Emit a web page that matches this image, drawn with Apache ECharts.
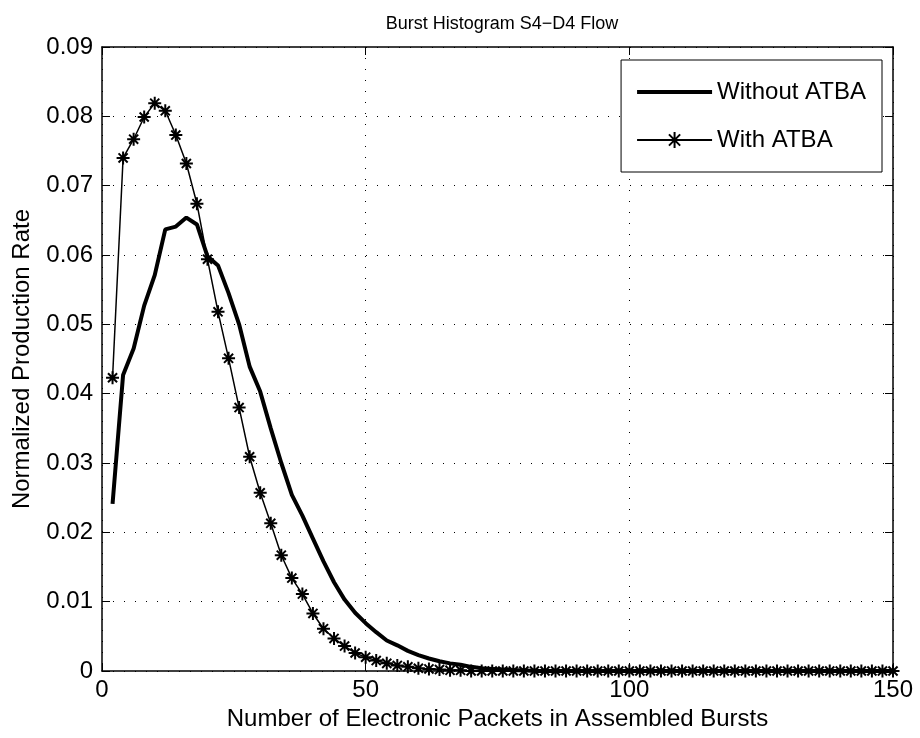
<!DOCTYPE html>
<html>
<head>
<meta charset="utf-8">
<script src="https://cdn.jsdelivr.net/npm/echarts@6/dist/echarts.min.js"></script>
<style>html,body{margin:0;padding:0;background:#fff}#c{width:920px;height:738px}</style>
</head>
<body>
<div id="c"></div>
<script>
const titleText = 'Burst Histogram S4\u2212D4 Flow';
const xName = 'Number of Electronic Packets in Assembled Bursts';
const yName = 'Normalized Production Rate';
const seriesNames = ['Without ATBA', 'With ATBA'];

const xValues = [2,4,6,8,10,12,14,16,18,20,22,24,26,28,30,32,34,36,38,40,
  42,44,46,48,50,52,54,56,58,60,62,64,66,68,70,72,74,76,78,80,
  82,84,86,88,90,92,94,96,98,100,102,104,106,108,110,112,114,116,118,120,
  122,124,126,128,130,132,134,136,138,140,142,144,146,148,150];

const withoutATBA = [0.0241,0.0427,0.0465,0.0527,0.0571,0.0637,0.0641,0.0654,0.0644,0.0598,
  0.0585,0.0545,0.0500,0.0439,0.0403,0.0350,0.0300,0.0254,0.0224,0.0191,
  0.0158,0.0128,0.0103,0.0084,0.0069,0.0056,0.0044,0.0037,0.0029,0.0023,
  0.0018,0.0014,0.0011,0.0009,0.0006,0.0004,0.0003,0.0002,0.0001,0.0001,
  0,0,0,0,0,0,0,0,0,0,0,0,0,0,0,0,0,0,0,0,
  0,0,0,0,0,0,0,0,0,0,0,0,0,0,0];

const withATBA = [0.0423,0.0740,0.0767,0.0799,0.0819,0.0808,0.0773,0.0732,0.0674,0.0594,
  0.0518,0.0451,0.0380,0.0309,0.0257,0.0213,0.0167,0.0134,0.0111,0.0083,
  0.0061,0.0047,0.0036,0.0026,0.0020,0.0015,0.0011,0.0008,0.0006,0.0004,
  0.0003,0.0002,0.0001,0.0001,0,0,0,0,0,0,
  0,0,0,0,0,0,0,0,0,0,0,0,0,0,0,0,0,0,0,0,
  0,0,0,0,0,0,0,0,0,0,0,0,0,0,0];

const xTicks = {min: 0, max: 150, interval: 50};
const yTicks = {min: 0, max: 0.09, interval: 0.01};

const font = 'Liberation Sans, Arial, Helvetica, sans-serif';
const star = 'path://M0,-10 L0,10 M-10,0 L10,0 M-7,-7 L7,7 M-7,7 L7,-7';
const thickIcon = 'path://M0,0 L75,0 L75,4 L0,4 Z';

const chart = echarts.init(document.getElementById('c'));
const mk = (arr) => xValues.map((x, i) => [x, arr[i]]);
const gridLine = {show: true, lineStyle: {color: '#000', type: [1, 10], width: 1}};

chart.setOption({
  animation: false,
  backgroundColor: '#fff',
  title: {text: titleText, left: 497, textAlign: 'center', top: 10,
    textStyle: {fontFamily: font, fontSize: 18, fontWeight: 'normal', color: '#000'}},
  grid: {left: 102, right: 27, top: 47, bottom: 67, containLabel: false},
  legend: {
    orient: 'vertical', right: 38, top: 60,
    backgroundColor: '#fff', borderColor: '#000', borderWidth: 1,
    padding: [20, 16, 20, 15], itemGap: 24, itemWidth: 75, itemHeight: 20,
    textStyle: {fontFamily: font, fontSize: 24, color: '#000'},
    data: [{name: seriesNames[0], icon: thickIcon}, {name: seriesNames[1]}]
  },
  xAxis: [{
    type: 'value', min: xTicks.min, max: xTicks.max, interval: xTicks.interval,
    name: xName, nameLocation: 'middle', nameGap: 36,
    nameTextStyle: {fontFamily: font, fontSize: 24, color: '#000'},
    axisLine: {show: true, lineStyle: {color: '#000', width: 1.5}},
    axisTick: {show: true, inside: true, length: 8, lineStyle: {color: '#000'}},
    axisLabel: {fontFamily: font, fontSize: 24, color: '#000', margin: 7},
    splitLine: gridLine
  }, {
    type: 'value', position: 'top', min: xTicks.min, max: xTicks.max, interval: xTicks.interval,
    axisLine: {show: true, onZero: false, lineStyle: {color: '#000', width: 1.5}},
    axisTick: {show: true, inside: true, length: 8, lineStyle: {color: '#000'}},
    axisLabel: {show: false}, splitLine: {show: false}
  }],
  yAxis: [{
    type: 'value', min: yTicks.min, max: yTicks.max, interval: yTicks.interval,
    name: yName, nameLocation: 'middle', nameGap: 68,
    nameTextStyle: {fontFamily: font, fontSize: 24, color: '#000'},
    axisLine: {show: true, lineStyle: {color: '#000', width: 1.5}},
    axisTick: {show: true, inside: true, length: 8, lineStyle: {color: '#000'}},
    axisLabel: {fontFamily: font, fontSize: 24, color: '#000', margin: 9,
      formatter: v => v === 0 ? '0' : v.toFixed(2)},
    splitLine: gridLine
  }, {
    type: 'value', position: 'right', min: yTicks.min, max: yTicks.max, interval: yTicks.interval,
    axisLine: {show: true, onZero: false, lineStyle: {color: '#000', width: 1.5}},
    axisTick: {show: true, inside: true, length: 8, lineStyle: {color: '#000'}},
    axisLabel: {show: false}, splitLine: {show: false}
  }],
  series: [{
    name: seriesNames[0], type: 'line', data: mk(withoutATBA),
    symbol: 'none', lineStyle: {color: '#000', width: 4}, itemStyle: {color: '#000'}
  }, {
    name: seriesNames[1], type: 'line', data: mk(withATBA),
    symbol: star, symbolSize: 13, showSymbol: true,
    lineStyle: {color: '#000', width: 1.5},
    itemStyle: {color: '#000', borderColor: '#000', borderWidth: 2}
  }]
});
</script>
</body>
</html>
